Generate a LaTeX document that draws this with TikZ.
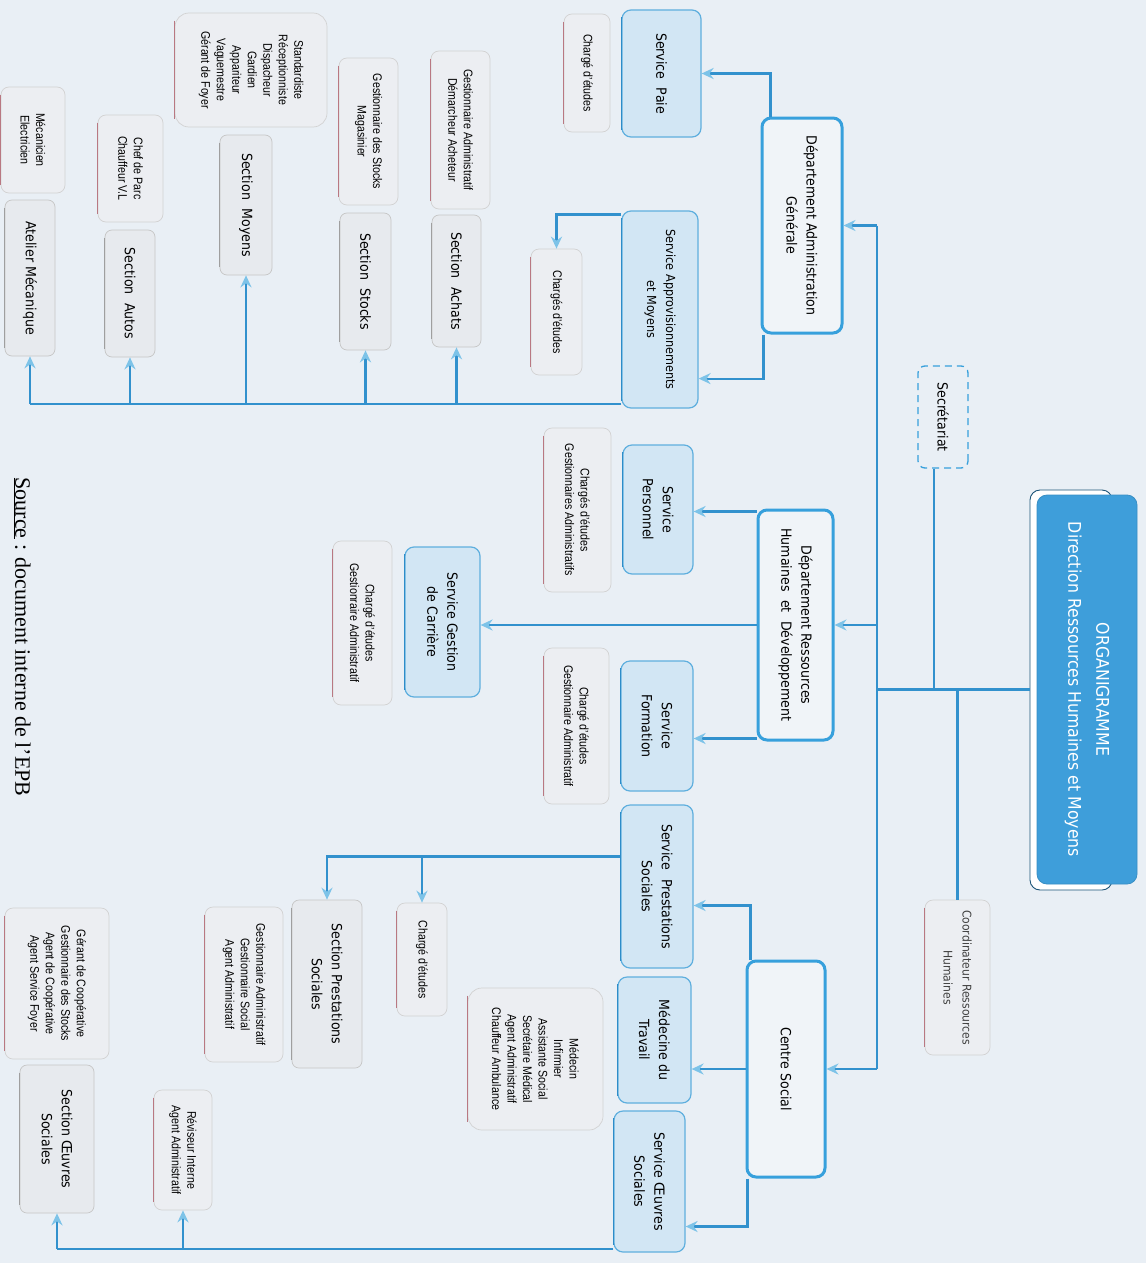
\documentclass[tikz,border=0pt]{standalone}
\usepackage{fontspec}
\setmainfont{DejaVu Sans}[FakeStretch=0.9]
\newfontfamily\smallfont{Liberation Sans}[FakeStretch=0.85]
\newfontfamily\srcfont{Liberation Serif}
\usetikzlibrary{arrows.meta}
\definecolor{bg}{RGB}{233,239,245}
\definecolor{lineb}{RGB}{50,145,205}
\definecolor{arrb}{RGB}{125,195,232}
\definecolor{svcfill}{RGB}{210,230,244}
\definecolor{svcdraw}{RGB}{95,175,222}
\definecolor{svcdark}{RGB}{45,140,200}
\definecolor{deptdraw}{RGB}{55,160,220}
\definecolor{deptfill}{RGB}{240,244,248}
\definecolor{titlefill}{RGB}{62,158,218}
\definecolor{grayfill}{RGB}{231,234,238}
\definecolor{listfill}{RGB}{236,238,242}
\definecolor{pinkedge}{RGB}{185,120,130}
\tikzset{
  bx/.style={rotate=-90, align=center, inner sep=2pt, text=black},
  sz/.style 2 args={minimum width=#1pt, minimum height=#2pt},
  ledge/.style={append after command={(\tikzlastnode.south west) edge[draw=#1, line width=1.5pt, shorten <=8pt, shorten >=8pt] (\tikzlastnode.south east)}},
  svc/.style={bx, rounded corners=9pt, fill=svcfill, draw=svcdraw, line width=1.2pt, font=\fontsize{14}{20}\selectfont, ledge=svcdark},
  dept/.style={bx, rounded corners=9pt, fill=deptfill, draw=deptdraw, line width=3pt, font=\fontsize{14}{20}\selectfont},
  sect/.style={bx, rounded corners=7pt, fill=grayfill, draw=gray!45, line width=0.7pt, font=\fontsize{14}{20}\selectfont, ledge=gray!75},
  lst/.style={bx, rounded corners=8pt, fill=listfill, draw=gray!35, line width=0.7pt, font=\smallfont\fontsize{12.5}{15.5}\selectfont, ledge=pinkedge},
  ttl/.style={bx, rounded corners=10pt, fill=titlefill, draw=titlefill!90!black, line width=0.8pt, text=white, font=\fontsize{17.5}{28}\selectfont},
  secbox/.style={bx, rounded corners=7pt, fill=bg, draw=deptdraw, line width=1.3pt, dash pattern=on 7pt off 5pt, font=\fontsize{14}{20}\selectfont},
  ln/.style={draw=lineb, line width=2.2pt},
  arr/.style={ln, -{Stealth[length=12pt, width=11pt, inset=4pt, color=arrb]}},
}
\newcommand{\wsp}{\hspace{0.6em}}
\begin{document}
\begin{tikzpicture}[x=1pt,y=-1pt]
\useasboundingbox (0,0) rectangle (1146,1263);
\fill[bg] (0,0) rectangle (1146,1263);
\coordinate (spx) at (877,0);

% ---- top level
\draw[rounded corners=10pt, fill=white, draw=svcdark!60!black, line width=0.9pt] (1030,490) rectangle (1112,890);
\node[ttl, sz={389}{100}] (title) at (1087,689.5) {ORGANIGRAMME\\Direction Ressources Humaines et Moyens};
\node[secbox, sz={102}{50}] (sec) at (943,417) {Secrétariat};
\node[lst, sz={155}{65}, font=\fontsize{12}{19}\selectfont, text=black!75] (coord) at (957.5,977.5) {Coordinateur Ressources\\Humaines};

% ---- Departement Administration Generale
\node[dept, sz={215}{80}] (dag) at (802,225.5) {Département Administration\\Générale};
\node[svc, sz={127}{79}] (paie) at (661.5,73.5) {Service\wsp Paie};
\node[lst, sz={118}{46}] (chg1) at (587,73) {Chargé d’études};
\node[svc, sz={197}{76}, font=\fontsize{12.5}{19}\selectfont] (appro) at (660,309.5) {Service Approvisionnements\\et Moyens};
\node[lst, sz={126}{51}] (chg2) at (556.5,312) {Chargés d’études};
\node[lst, sz={158}{59}] (gach) at (460.5,130) {Gestionnaire Administratif\\Démarcheur Acheteur};
\node[sect, sz={132}{49}] (achats) at (456.5,281) {Section\wsp Achats};
\node[lst, sz={147}{59}] (gsto) at (368.5,131.5) {Gestionnaire des Stocks\\Magasinier};
\node[sect, sz={137}{51}] (stocks) at (365.5,281.5) {Section\wsp Stocks};
\node[lst, sz={114}{152}, rounded corners=14pt] (std) at (251,70) {Standardiste\\Réceptionniste\\Dispacheur\\Gardien\\Appariteur\\Vaguemestre\\Gérant de Foyer};
\node[sect, sz={140}{52}] (moyens) at (246,205) {Section\wsp Moyens};
\node[lst, sz={107}{65}] (parc) at (130.5,168.5) {Chef de Parc\\Chauffeur V.L};
\node[sect, sz={127}{50}] (autos) at (130,293.5) {Section\wsp Autos};
\node[lst, sz={106}{64}] (meca) at (33,140) {Mécanicien\\Electricien};
\node[sect, sz={156}{50}] (atel) at (30,278) {Atelier Mécanique};

% ---- Departement RH
\node[dept, sz={230}{75}] (drh) at (795.5,625) {Département Ressources\\Humaines\wsp et\wsp Développement};
\node[svc, sz={129}{70}] (pers) at (658,509.5) {Service\\Personnel};
\node[lst, sz={164}{67}] (chg3) at (577.5,510) {Chargés d’études\\Gestionnaires Administratifs};
\node[svc, sz={130}{72}] (form) at (657,726) {Service\\Formation};
\node[lst, sz={156}{65}] (chg4) at (576.5,726) {Chargé d’études\\Gestionnaire Administratif};
\node[svc, sz={150}{75}] (car) at (442.5,622) {Service Gestion\\de Carrière};
\node[lst, sz={164}{59}] (chg6) at (362.5,623) {Chargé d’études\\Gestionraire Administratif};

% ---- Centre Social
\node[dept, sz={216}{78}] (cs) at (786,1069) {Centre Social};
\node[svc, sz={163}{72}] (prest) at (657,886.5) {Service\wsp Prestations\\Sociales};
\node[svc, sz={126}{73}] (med) at (654.5,1040) {Médecine du\\Travail};
\node[lst, sz={142}{135}, rounded corners=14pt] (medl) at (535.5,1059) {Médecin\\Infirmier\\Assistante Social\\Secrétaire Médical\\Agent Administratif\\Chauffeur Ambulance};
\node[svc, sz={141}{71}] (oeu) at (649.5,1181.5) {Service Œuvres\\Sociales};
\node[lst, sz={113}{50}] (chg5) at (422,959.5) {Chargé d’études};
\node[sect, sz={168}{70}] (secps) at (327,984) {Section Prestations\\Sociales};
\node[lst, sz={155}{78}] (gps) at (244,984.5) {Gestionnaire Administratif\\Gestionnaire Social\\Agent Administratif};
\node[lst, sz={120}{58}] (revi) at (183,1150) {Réviseur Interne\\Agent Administratif};
\node[sect, sz={148}{74}] (secos) at (57,1139) {Section Œuvres\\Sociales};
\node[lst, sz={151}{104}] (coop) at (57,983.5) {Gérant de Coopérative\\Gestionnaire des Stocks\\Agent de Coopérative\\Agent Service Foyer};

\node[rotate=-90, inner sep=0pt, font=\srcfont\fontsize{22}{26}\selectfont] (src) at (22,637) {\underline{Source} : document interne de l’EPB};

% ---- connectors: top level
\coordinate (t0) at ([xshift=-7pt]title.south);
\draw[ln] (t0) -- (t0 -| spx);
\coordinate (s0) at ([xshift=-9pt]sec.east);
\draw[ln] (s0) -- (s0 |- title.south);
\draw[ln] (coord.west) -- (coord.west |- title.south);
\draw[ln] (dag.north -| spx) -- (cs.north -| spx);
\draw[arr] (dag.north -| spx) -- (dag.north);
\draw[arr] (drh.north -| spx) -- (drh.north);
\draw[arr] (cs.north -| spx) -- (cs.north);

% ---- Departement Administration Generale
\coordinate (a1) at ([xshift=10pt]dag.south west);
\draw[arr] (a1) |- (paie.north);
\coordinate (a2) at ([xshift=3pt]dag.south east);
\coordinate (a3) at ([yshift=30pt]appro.north east);
\draw[arr] (a2) |- (a3);
\coordinate (a4) at ([yshift=-4pt]appro.south west);
\draw[arr] (a4) -| (chg2.west);
\coordinate (a5) at ([yshift=5pt]appro.south east);
\draw[ln] (a5) -- (a5 -| atel.east);
\foreach \n in {achats,stocks,moyens,autos,atel}
  \draw[arr] (a5 -| \n.east) -- (\n.east);

% ---- Departement RH
\coordinate (r1) at ([yshift=-3pt]drh.south west);
\draw[arr] (r1) -- (r1 -| pers.north);
\draw[arr] (drh.south) -- (drh.south -| car.north);
\coordinate (r2) at ([yshift=3pt]drh.south east);
\draw[arr] (r2) -- (r2 -| form.north);

% ---- Centre Social
\coordinate (c1) at ([xshift=5pt]cs.south west);
\coordinate (c2) at ([yshift=-19pt]prest.north);
\draw[arr] (c1) |- (c2);
\draw[arr] (cs.south) -- (cs.south -| med.north);
\coordinate (c3) at ([xshift=2pt]cs.south east);
\coordinate (c4) at ([yshift=-45pt]oeu.north);
\draw[arr] (c3) |- (c4);
\coordinate (p1) at ([yshift=30pt]prest.south);
\draw[arr] (p1) -| (secps.west);
\draw[arr] (p1 -| chg5.west) -- (chg5.west);
\coordinate (o1) at ([yshift=4pt]oeu.south east);
\draw[ln] (o1) -- (o1 -| secos.east);
\draw[arr] (o1 -| secos.east) -- (secos.east);
\draw[arr] (o1 -| revi.east) -- (revi.east);
\end{tikzpicture}
\end{document}
